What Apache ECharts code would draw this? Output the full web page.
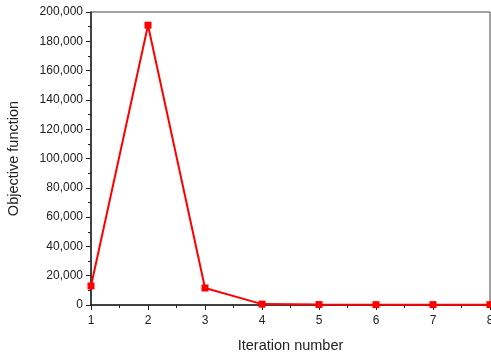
<!DOCTYPE html>
<html>
<head>
<meta charset="utf-8">
<script src="https://cdn.jsdelivr.net/npm/echarts@6/dist/echarts.min.js"></script>
<style>
  html, body { margin: 0; padding: 0; background: #fff; }
  #chart { width: 491px; height: 353px; }
</style>
</head>
<body>
<div id="chart"></div>
<script>
// iteration number vs objective function
const iterations = [1, 2, 3, 4, 5, 6, 7, 8];
const objective = [13000, 191000, 11600, 600, 300, 250, 250, 250];

const chart = echarts.init(document.getElementById("chart"));

const axisFont = { color: "#222", fontFamily: "Liberation Sans, Arial", fontSize: 12 };

const option = {
  animation: false,
  grid: {
    left: 91,
    right: 1,
    top: 12,
    bottom: 48,
    outerBoundsMode: "none",
    containLabel: false,
    show: true,
    borderColor: "#444",
    borderWidth: 1,
  },
  xAxis: {
    type: "value",
    min: 1,
    max: 8,
    interval: 1,
    name: "Iteration number",
    nameLocation: "middle",
    nameGap: 33,
    nameTextStyle: { color: "#222", fontFamily: "Liberation Sans, Arial", fontSize: 14.5 },
    axisLine: { lineStyle: { color: "#222", width: 1.5 } },
    axisTick: { show: true, length: 5, lineStyle: { color: "#222" } },
    minorTick: { show: true, splitNumber: 2, length: 3, lineStyle: { color: "#222" } },
    axisLabel: { ...axisFont, margin: 10 },
    splitLine: { show: false },
  },
  yAxis: {
    type: "value",
    min: 0,
    max: 200000,
    interval: 20000,
    name: "Objective function",
    nameLocation: "middle",
    nameGap: 70,
    nameTextStyle: { color: "#222", fontFamily: "Liberation Sans, Arial", fontSize: 14.5 },
    axisLine: { show: true, lineStyle: { color: "#222", width: 1.5 } },
    axisTick: { show: true, length: 5, lineStyle: { color: "#222" } },
    minorTick: { show: true, splitNumber: 2, length: 3, lineStyle: { color: "#222" } },
    axisLabel: {
      ...axisFont,
      margin: 8,
      formatter: (v) => v.toLocaleString("en-US"),
    },
    splitLine: { show: false },
  },
  series: [
    {
      type: "line",
      data: iterations.map((x, i) => [x, objective[i]]),
      symbol: "rect",
      symbolSize: 7,
      clip: true,
      lineStyle: { color: "#ff0000", width: 2 },
      itemStyle: { color: "#ff0000" },
    },
  ],
};

chart.setOption(option);
</script>
</body>
</html>
